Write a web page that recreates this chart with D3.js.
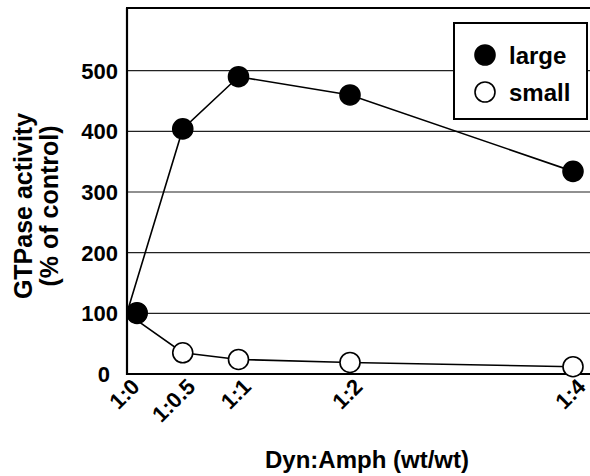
<!DOCTYPE html>
<html>
<head>
<meta charset="utf-8">
<script src="https://cdn.jsdelivr.net/npm/d3@7"></script>
<style>
  html, body { margin: 0; padding: 0; background: #fff; }
  svg { display: block; font-family: "Liberation Sans", Arial, Helvetica, sans-serif; font-weight: bold; }
</style>
</head>
<body>
<svg id="chart" width="590" height="476"></svg>
<script>
// ---- data ----
const ratios = [0, 0.5, 1, 2, 4];
const tickLabels = ["1:0", "1:0.5", "1:1", "1:2", "1:4"];
const largeValues = [101, 404, 490, 460, 334];
const smallValues = [100, 35, 24, 19, 12];
const yTicks = [0, 100, 200, 300, 400, 500];
const seriesNames = ["large", "small"];

// ---- layout ----
const plotLeft = 127, plotRight = 590, plotTop = 8, plotBottom = 374;
const rad = 10;

const svg = d3.select("#chart");
const x = d3.scaleLinear().domain([0, 4]).range([plotLeft, 573]);
const y = d3.scaleLinear().domain([0, 600]).range([plotBottom, 10]);

// gridlines
svg.append("g").selectAll("line").data(yTicks.filter(d => d > 0)).join("line")
  .attr("x1", plotLeft).attr("x2", plotRight)
  .attr("y1", d => y(d)).attr("y2", d => y(d))
  .attr("stroke", "#222").attr("stroke-width", 1.2);

// frame: left axis, bottom axis, top border
svg.append("line").attr("x1", plotLeft).attr("x2", plotLeft).attr("y1", plotTop).attr("y2", plotBottom + 1)
  .attr("stroke", "#000").attr("stroke-width", 2.2);
svg.append("line").attr("x1", plotLeft - 1).attr("x2", plotRight).attr("y1", plotBottom).attr("y2", plotBottom)
  .attr("stroke", "#000").attr("stroke-width", 2.2);
svg.append("line").attr("x1", plotLeft - 1).attr("x2", plotRight).attr("y1", plotTop).attr("y2", plotTop)
  .attr("stroke", "#000").attr("stroke-width", 2);

// y tick labels
svg.append("g").selectAll("text").data(yTicks).join("text")
  .attr("x", d => d === 0 ? plotLeft - 17 : plotLeft - 9)
  .attr("y", d => y(d))
  .attr("dy", "0.36em")
  .attr("text-anchor", "end")
  .attr("font-size", 22)
  .text(d => d);

// x tick labels (rotated)
svg.append("g").selectAll("text").data(ratios).join("text")
  .attr("transform", d => `translate(${x(d) + 14},${plotBottom + 14}) rotate(-45)`)
  .attr("text-anchor", "end")
  .attr("font-size", 22)
  .text((d, i) => tickLabels[i]);

// axis titles
svg.append("text")
  .attr("transform", "translate(32,206) rotate(-90)")
  .attr("text-anchor", "middle").attr("font-size", 25)
  .text("GTPase activity");
svg.append("text")
  .attr("transform", "translate(58,206) rotate(-90)")
  .attr("text-anchor", "middle").attr("font-size", 25)
  .text("(% of control)");
svg.append("text")
  .attr("x", 367).attr("y", 468)
  .attr("text-anchor", "middle").attr("font-size", 24)
  .text("Dyn:Amph (wt/wt)");

// lines
const line = d3.line().x(d => x(d[0])).y(d => y(d[1]));
const smallPts = ratios.map((d, i) => [d, smallValues[i]]);
const largePts = ratios.map((d, i) => [d, largeValues[i]]);
[smallPts, largePts].forEach(pts => {
  svg.append("path").attr("d", line(pts))
    .attr("fill", "none").attr("stroke", "#000").attr("stroke-width", 1.6);
});

// markers (kept inside the frame)
const cx = d => Math.max(x(d[0]), plotLeft + rad);
svg.append("g").selectAll("circle").data(smallPts).join("circle")
  .attr("cx", cx).attr("cy", d => y(d[1])).attr("r", rad)
  .attr("fill", "#fff").attr("stroke", "#000").attr("stroke-width", 1.6);
svg.append("g").selectAll("circle").data(largePts).join("circle")
  .attr("cx", cx).attr("cy", d => y(d[1])).attr("r", rad)
  .attr("fill", "#000").attr("stroke", "#000").attr("stroke-width", 1.6);

// legend
const lg = svg.append("g");
lg.append("rect").attr("x", 454).attr("y", 23).attr("width", 133).attr("height", 96)
  .attr("fill", "#fff").attr("stroke", "#000").attr("stroke-width", 2);
seriesNames.forEach((name, i) => {
  const cy = 55 + i * 37;
  lg.append("circle").attr("cx", 485).attr("cy", cy).attr("r", rad)
    .attr("fill", i === 0 ? "#000" : "#fff").attr("stroke", "#000").attr("stroke-width", 1.6);
  lg.append("text").attr("x", 509).attr("y", cy).attr("dy", "0.36em")
    .attr("font-size", 24).text(name);
});
</script>
</body>
</html>
